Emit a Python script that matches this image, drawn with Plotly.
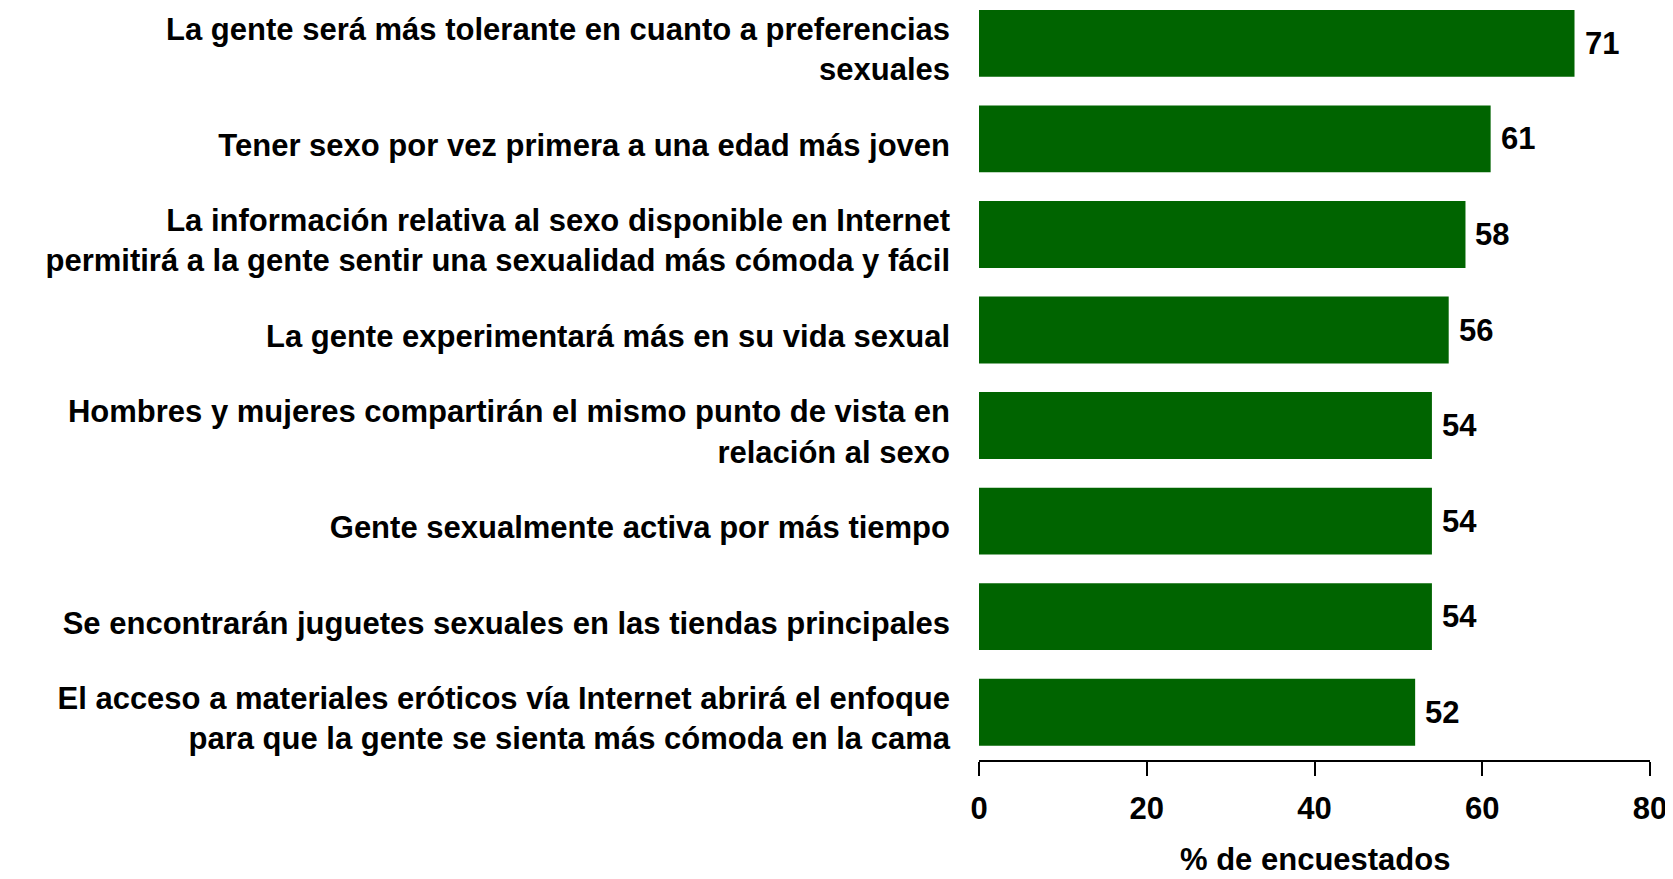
import plotly.graph_objects as go

categories = [
    "La gente será más tolerante en cuanto a preferencias<br>sexuales",
    "Tener sexo por vez primera a una edad más joven",
    "La información relativa al sexo disponible en Internet<br>permitirá a la gente sentir una sexualidad más cómoda y fácil",
    "La gente experimentará más en su vida sexual",
    "Hombres y mujeres compartirán el mismo punto de vista en<br>relación al sexo",
    "Gente sexualmente activa por más tiempo",
    "Se encontrarán juguetes sexuales en las tiendas principales",
    "El acceso a materiales eróticos vía Internet abrirá el enfoque<br>para que la gente se sienta más cómoda en la cama",
]
values = [71, 61, 58, 56, 54, 54, 54, 52]
x_ticks = [0, 20, 40, 60, 80]
x_title = "% de encuestados"

FONT = "Liberation Sans, Arial, sans-serif"
GREEN = "#006400"
SIZE = 31
bold = dict(family=FONT, size=SIZE, color="black", weight="bold")

fig = go.Figure()

fig.add_trace(go.Bar(
    x=values,
    y=categories,
    orientation="h",
    marker=dict(color=GREEN, line_width=0),
    hoverinfo="x+y",
))

# value labels next to the bar ends
for cat, val in zip(categories, values):
    fig.add_annotation(
        x=val, y=cat, text=str(val), showarrow=False,
        xanchor="left", xshift=8, font=bold,
    )

# x axis title, placed as an annotation so it sits right at the bottom
fig.add_annotation(
    x=0.5, y=0, xref="paper", yref="paper", text=x_title,
    showarrow=False, xanchor="center", yanchor="middle", yshift=-99,
    font=bold,
)

fig.update_layout(
    width=1665,
    height=871,
    margin=dict(l=971, r=23, t=0, b=119),
    plot_bgcolor="white",
    paper_bgcolor="white",
    showlegend=False,
    bargap=0.3,
    font=bold,
)

fig.update_yaxes(
    range=[7.5, -0.37],
    automargin=False,
    showline=False,
    showgrid=False,
    ticks="",
    ticklabelstandoff=28,
    ticklabelshift=-6,
    tickfont=bold,
)

fig.update_xaxes(
    range=[0, 80],
    tickvals=x_ticks,
    automargin=False,
    showgrid=False,
    zeroline=False,
    showline=True,
    linecolor="black",
    linewidth=2,
    ticks="outside",
    ticklen=14,
    tickwidth=2,
    tickcolor="black",
    ticklabelstandoff=6,
    tickfont=bold,
)

fig.write_html("out.html")
